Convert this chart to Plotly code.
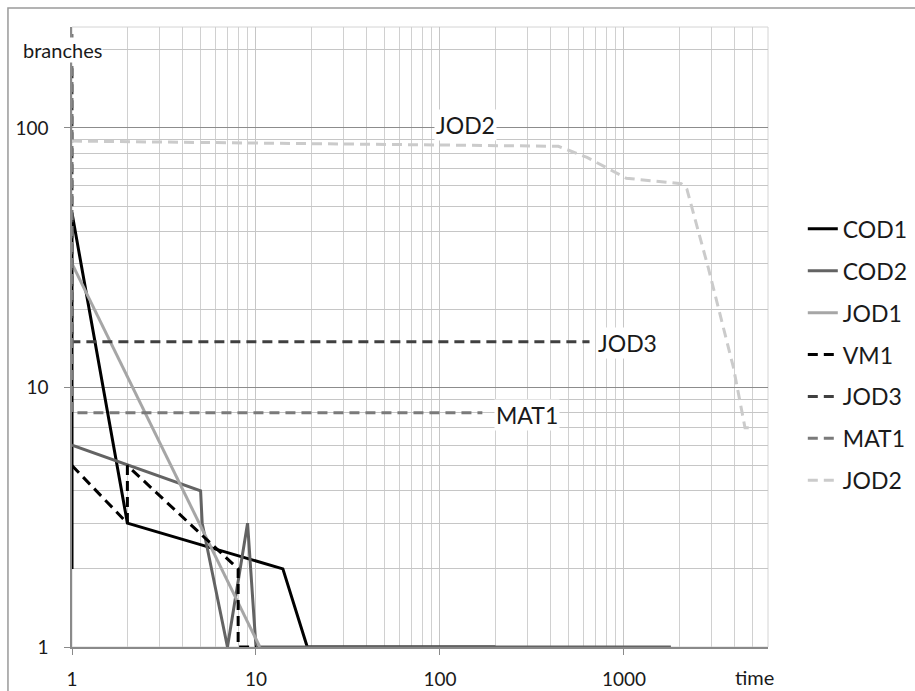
import numpy as np
import plotly.graph_objects as go

# ---- data (time, branches) ----
COD1_x = [1, 1, 2, 14, 19, 200]
COD1_y = [2, 47, 3, 2, 1, 1]

COD2_x = [1, 5, 5.1, 7, 9, 10, 1800]
COD2_y = [6, 4, 3, 1, 3, 1, 1]

JOD1_x = [1, 10.5]
JOD1_y = [30, 1]

VM1_x = [1, 2, 2, 8, 8, 10]
VM1_y = [5, 3, 5, 2, 1, 1]

JOD3_x = [1, 1, 650]
JOD3_y = [170, 15, 15]

MAT1_x = [1, 1, 170]
MAT1_y = [230, 8, 8]

JOD2_x = [1, 440, 630, 1030, 2050, 2200, 2870, 3930, 4550, 5050]
JOD2_y = [89, 85, 77, 64, 61, 58, 29, 12, 7, 7]

x_ticks = [1, 10, 100, 1000]
y_ticks = [1, 10, 100]

labels = ["JOD2", "JOD3", "MAT1"]
label_x = [137, 1040, 297]
label_y = [103, 14.8, 7.8]

FONT = "Lato"
TXT = "#1a1a1a"

series = [
    ("COD1", COD1_x, COD1_y, "#000000", "solid"),
    ("COD2", COD2_x, COD2_y, "#636363", "solid"),
    ("JOD1", JOD1_x, JOD1_y, "#a6a6a6", "solid"),
    ("VM1", VM1_x, VM1_y, "#000000", "10px,6px"),
    ("JOD3", JOD3_x, JOD3_y, "#404040", "10px,6px"),
    ("MAT1", MAT1_x, MAT1_y, "#7a7a7a", "10px,6px"),
    ("JOD2", JOD2_x, JOD2_y, "#cbcbcb", "10px,6px"),
]

fig = go.Figure()
for name, xs, ys, col, dash in series:
    fig.add_trace(go.Scatter(
        x=xs, y=ys, name=name, mode="lines", legendgroup=name,
        line=dict(color=col, width=3, dash=dash),
    ))

for t, lx, ly in zip(labels, label_x, label_y):
    fig.add_annotation(x=np.log10(lx), y=np.log10(ly), text=t, showarrow=False,
                       xref="x", yref="y", bgcolor="white",
                       font=dict(family=FONT, size=23, color=TXT))

fig.add_annotation(x=-0.0718, y=0.963, xref="paper", yref="paper", text="branches",
                   showarrow=False, xanchor="left", yanchor="middle", bgcolor="white",
                   borderpad=0,
                   font=dict(family=FONT, size=20, color=TXT))
fig.add_annotation(x=0.950, y=-0.0484, xref="paper", yref="paper", text="time",
                   showarrow=False, xanchor="left", yanchor="middle",
                   font=dict(family=FONT, size=20, color=TXT))

# outer chart frame
fig.add_shape(type="rect", xref="paper", yref="paper", x0=-0.092, y0=-0.2, x1=1.4, y1=1.0306,
              line=dict(color="#9a9a9a", width=1.5), layer="below")
# plot area border
fig.add_shape(type="rect", xref="paper", yref="paper", x0=0, y0=0, x1=1, y1=1,
              line=dict(color="#d4d4d4", width=1), layer="below")

fig.update_xaxes(
    type="log", range=[0, 3.783], tickvals=x_ticks, ticktext=[str(v) for v in x_ticks],
    showgrid=True, gridcolor="#c6c6c6", gridwidth=1,
    minor=dict(showgrid=True, gridcolor="#d0d0d0", gridwidth=1, dtick="D1"),
    showline=True, linecolor="#8a8a8a", linewidth=1.5,
    ticks="outside", ticklen=6, tickcolor="#8a8a8a", ticklabelstandoff=8,
    tickfont=dict(family=FONT, size=19, color=TXT), zeroline=False,
)
fig.update_yaxes(
    type="log", range=[0, 2.389], tickvals=y_ticks, ticktext=[str(v) for v in y_ticks],
    showgrid=True, gridcolor="#8c8c8c", gridwidth=1,
    minor=dict(showgrid=True, gridcolor="#c6c6c6", gridwidth=1, dtick="D1"),
    showline=True, linecolor="#8a8a8a", linewidth=1.5,
    ticks="outside", ticklen=6, tickcolor="#8a8a8a", ticklabelstandoff=12,
    tickfont=dict(family=FONT, size=19, color=TXT), zeroline=False,
)

fig.update_layout(
    width=915, height=691,
    margin=dict(l=72, r=147, t=27, b=44, autoexpand=False),
    paper_bgcolor="white", plot_bgcolor="white",
    showlegend=True,
    legend=dict(x=1.050, y=0.709, xanchor="left", yanchor="top",
                traceorder="grouped", tracegroupgap=9,
                font=dict(family=FONT, size=23, color=TXT),
                bgcolor="rgba(0,0,0,0)", itemwidth=30),
)

fig.write_html("out.html")
